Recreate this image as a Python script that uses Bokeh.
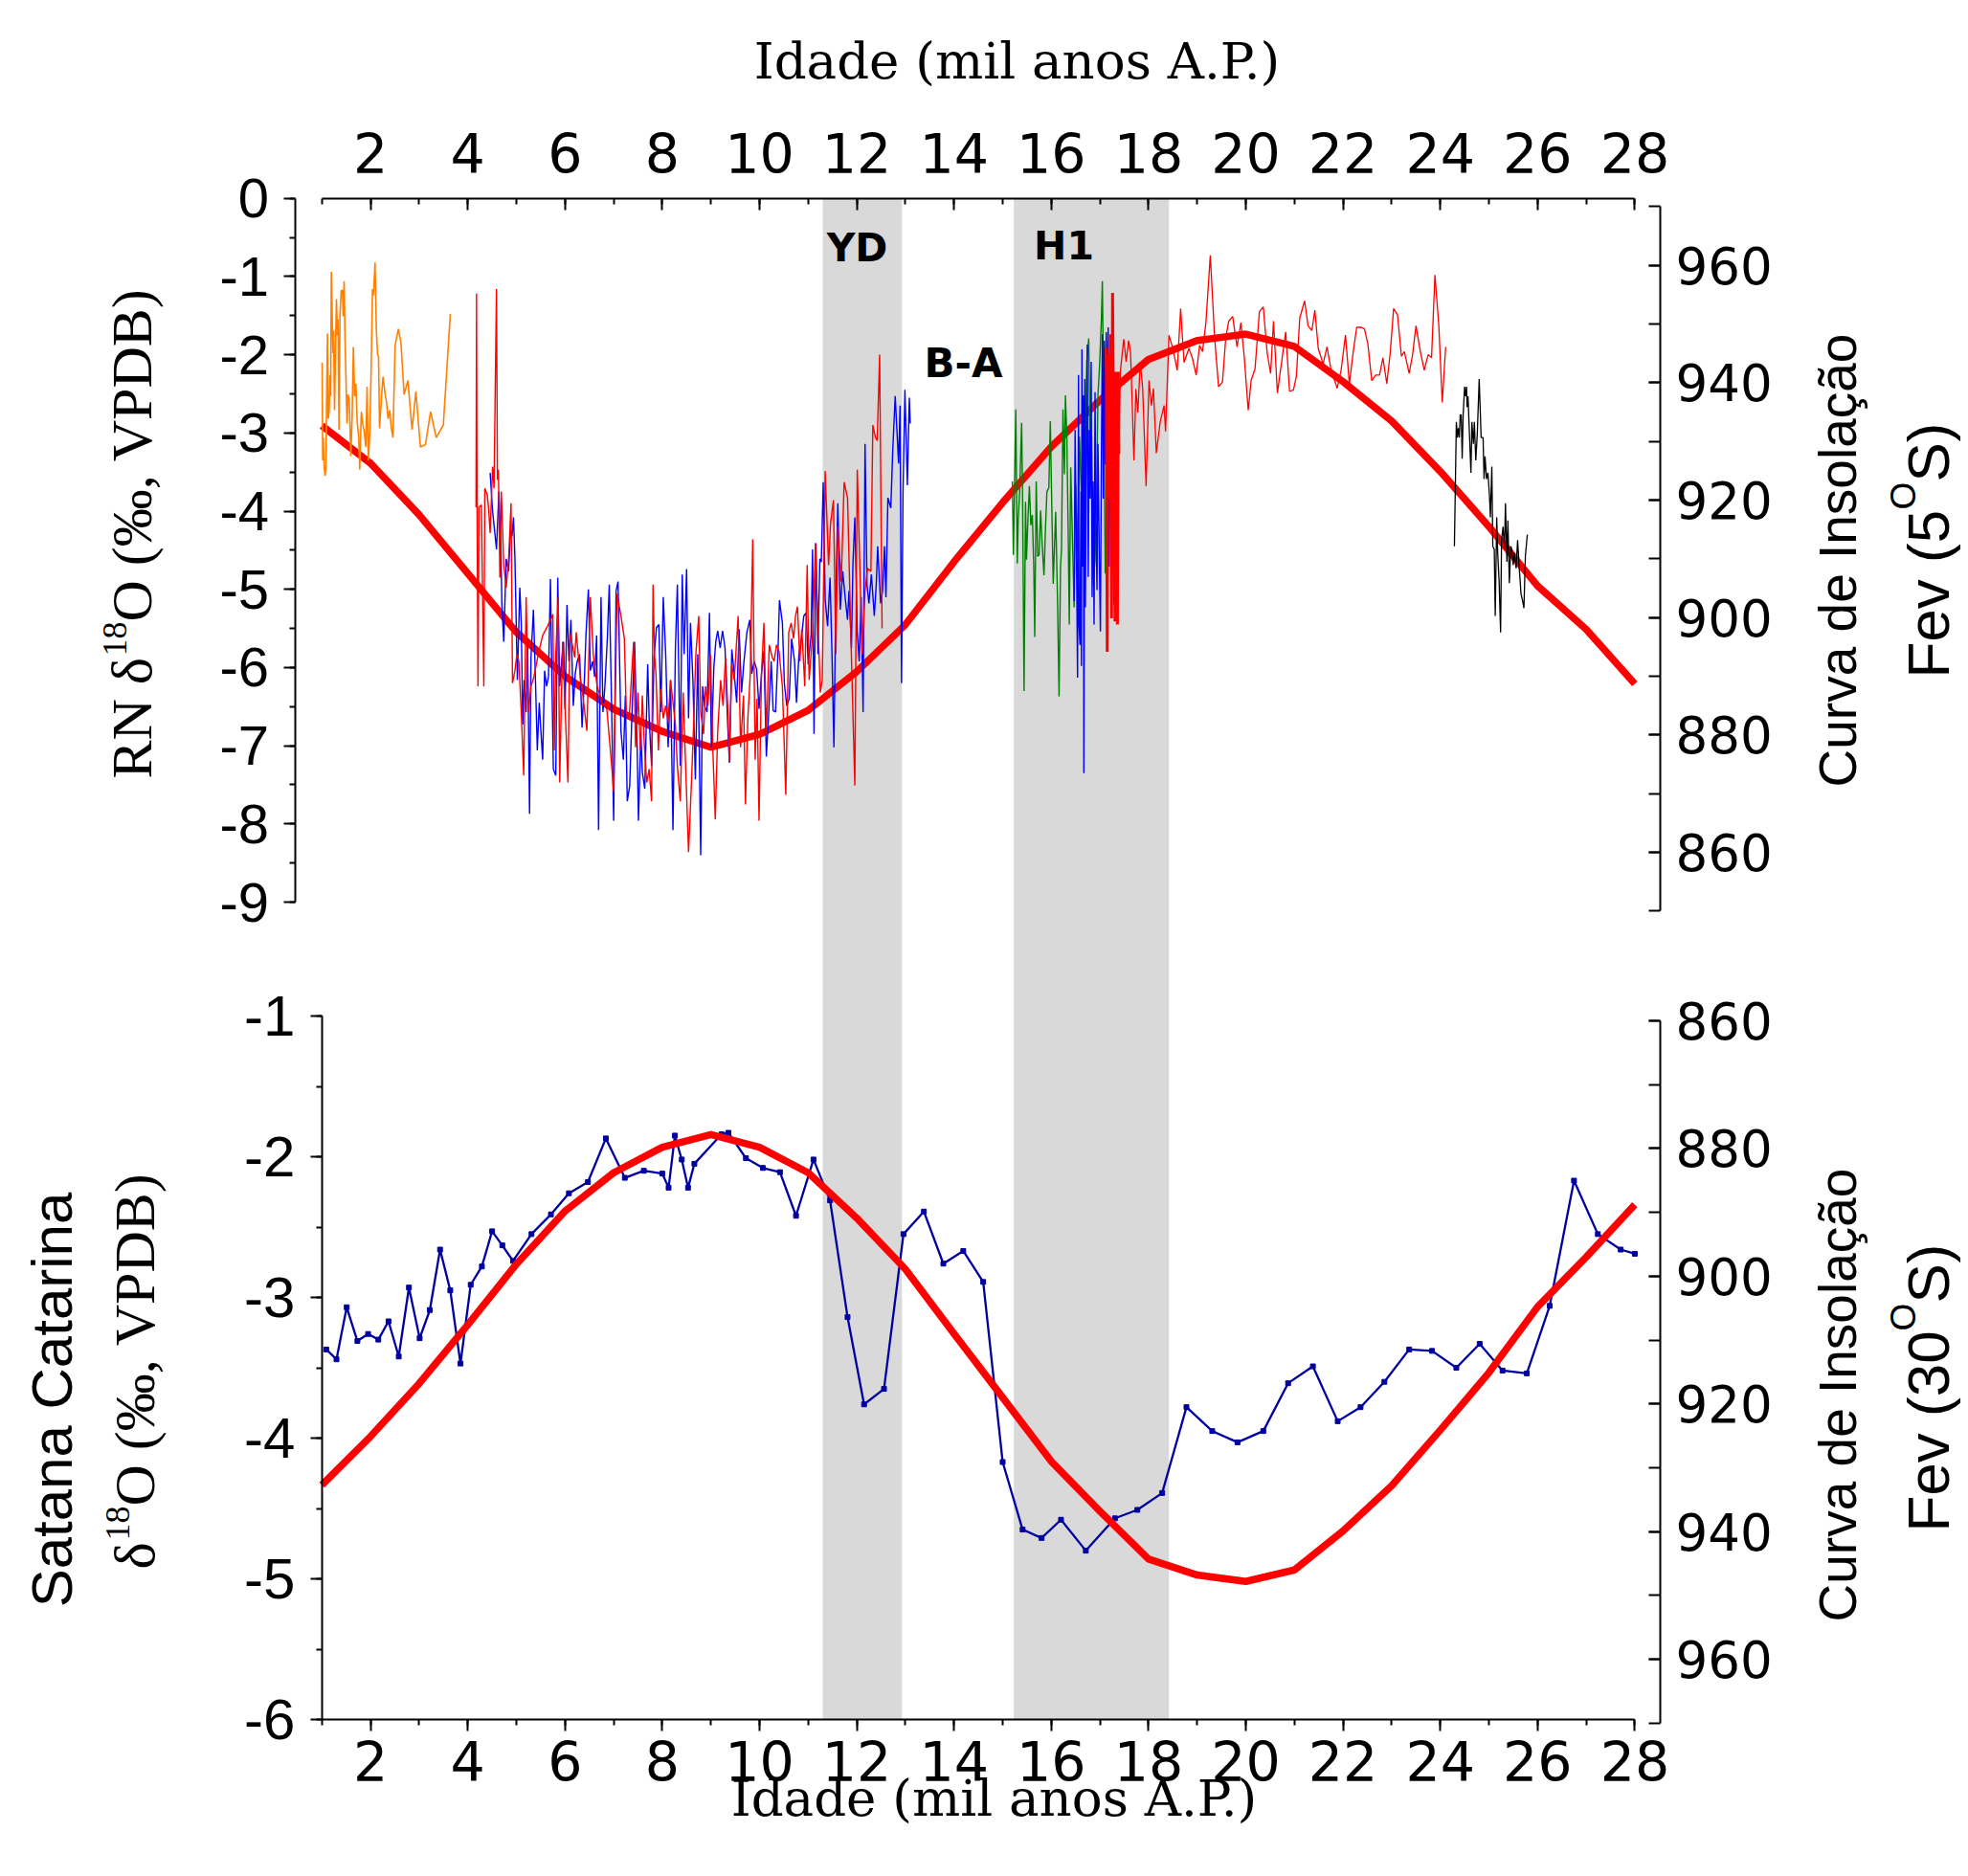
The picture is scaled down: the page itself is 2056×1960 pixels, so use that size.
import math
from bokeh.plotting import figure
from bokeh.models import (Range1d, LinearAxis, SingleIntervalTicker, BoxAnnotation, Label,
                          CustomJSTickFormatter)
from bokeh.embed import file_html
from bokeh.resources import INLINE

# ---------------- data ----------------
ins_age = list(range(1, 29))
ins_5S = [932.7, 926.3, 917.5, 907.5, 897.5, 890.0, 884.4, 880.6, 877.9, 880.1, 884.2, 890.8, 898.8, 909.5,
          919.6, 929.1, 937.0, 944.0, 947.2, 948.3, 946.2, 940.2, 933.5, 924.9, 915.5, 905.4, 898.0, 888.7]
ins_30S = [932.7, 925.1, 916.8, 907.6, 898.1, 889.8, 883.8, 879.8, 877.8, 879.8, 883.8, 890.9, 898.9, 909.0,
           919.0, 929.0, 936.8, 944.3, 946.8, 947.8, 946.0, 939.9, 932.8, 924.1, 915.1, 904.8, 897.0, 888.8]

orange_age = [1.004, 1.017, 1.030, 1.043, 1.063, 1.083, 1.096, 1.115, 1.129, 1.148, 1.168, 1.181, 1.194, 1.214,
              1.227, 1.240, 1.260, 1.280, 1.299, 1.319, 1.332, 1.352, 1.371, 1.398, 1.424, 1.437, 1.457, 1.476,
              1.496, 1.516, 1.535, 1.562, 1.581, 1.594, 1.621, 1.647, 1.673, 1.699, 1.726, 1.758, 1.778, 1.811,
              1.844, 1.870, 1.903, 1.929, 1.955, 1.988, 2.014, 2.041, 2.060, 2.093, 2.119, 2.146, 2.165, 2.185,
              2.231, 2.257, 2.297, 2.329, 2.362, 2.395, 2.428, 2.461, 2.506, 2.572, 2.625, 2.690, 2.769, 2.854,
              2.933, 3.025, 3.130, 3.235, 3.353, 3.497, 3.641]
orange_d18o = [-2.10, -3.35, -3.06, -3.39, -3.55, -3.45, -2.61, -1.73, -2.82, -2.73, -2.26, -2.53, -0.94, -1.55,
               -1.98, -1.69, -2.71, -1.92, -1.29, -1.75, -1.55, -2.96, -1.51, -1.18, -1.18, -1.51, -1.06, -1.80,
               -2.33, -2.88, -2.51, -2.57, -2.98, -3.30, -2.82, -1.90, -2.53, -2.37, -2.86, -3.06, -3.47, -2.73,
               -2.90, -2.98, -3.18, -2.41, -3.35, -2.96, -2.12, -1.16, -1.24, -0.82, -1.67, -2.00, -2.02, -2.94,
               -2.49, -2.28, -2.49, -2.61, -2.82, -2.71, -2.94, -3.06, -1.88, -1.67, -1.84, -2.51, -2.33, -2.96,
               -2.47, -3.18, -3.15, -2.73, -3.06, -2.90, -1.48]

red_age = [4.17, 4.18, 4.19, 4.21, 4.23, 4.28, 4.33, 4.35, 4.40, 4.43, 4.46, 4.51, 4.54, 4.59, 4.61, 4.63, 4.66,
           4.69, 4.74, 4.79, 4.84, 4.89, 4.92, 4.97, 5.01, 5.05, 5.10, 5.15, 5.20, 5.25, 5.30, 5.36, 5.45, 5.54,
           5.64, 5.75, 5.78, 5.81, 5.86, 5.89, 5.95, 6.00, 6.06, 6.10, 6.20, 6.23, 6.32, 6.36, 6.45, 6.52, 6.58,
           6.66, 6.76, 6.86, 6.96, 7.00, 7.07, 7.15, 7.22, 7.26, 7.32, 7.37, 7.41, 7.45, 7.50, 7.55, 7.59, 7.63,
           7.68, 7.73, 7.78, 7.81, 7.84, 7.87, 7.92, 7.97, 8.02, 8.07, 8.12, 8.17, 8.22, 8.27, 8.31, 8.37, 8.43,
           8.48, 8.54, 8.60, 8.64, 8.69, 8.75, 8.79, 8.85, 8.89, 8.94, 8.99, 9.04, 9.09, 9.14, 9.20, 9.25, 9.30,
           9.35, 9.38, 9.43, 9.48, 9.56, 9.61, 9.67, 9.71, 9.76, 9.81, 9.86, 9.91, 9.95, 9.99, 10.04, 10.09,
           10.14, 10.20, 10.26, 10.30, 10.35, 10.40, 10.47, 10.54, 10.60, 10.65, 10.70, 10.74, 10.78, 10.83,
           10.87, 10.93, 10.98, 11.02, 11.09, 11.15, 11.22, 11.25, 11.29, 11.35, 11.42, 11.46, 11.52, 11.57,
           11.61, 11.68, 11.74, 11.81, 11.88, 11.96, 12.01, 12.05, 12.11, 12.17, 12.22, 12.29, 12.33, 12.38,
           12.42, 12.47, 12.52]
red_d18o = [-3.95, -1.22, -3.80, -6.24, -3.95, -3.92, -6.24, -3.71, -3.79, -3.98, -4.28, -3.43, -3.71, -1.16,
            -3.60, -3.47, -4.85, -3.75, -4.69, -4.98, -4.61, -3.90, -6.20, -6.04, -5.83, -5.92, -6.57, -7.38,
            -5.10, -6.57, -6.24, -6.12, -5.83, -5.59, -5.47, -5.32, -7.06, -5.83, -5.10, -7.47, -5.67, -6.49,
            -7.47, -5.55, -5.87, -5.55, -6.16, -6.32, -6.81, -5.10, -5.83, -6.24, -6.45, -6.53, -7.26, -7.59,
            -5.06, -5.34, -5.63, -6.57, -6.65, -6.08, -5.67, -7.02, -6.32, -7.06, -6.36, -6.98, -7.47, -7.30,
            -7.71, -4.94, -5.83, -6.08, -7.06, -6.28, -6.65, -6.49, -6.69, -6.16, -6.45, -6.73, -7.26, -7.71,
            -6.32, -7.26, -8.36, -7.47, -6.81, -5.83, -5.34, -6.57, -6.85, -6.24, -6.49, -5.83, -7.06, -7.94,
            -6.81, -6.16, -6.49, -5.87, -6.57, -7.20, -5.96, -6.16, -5.34, -7.02, -6.36, -7.75, -6.65, -6.08,
            -4.36, -7.18, -6.40, -7.96, -6.08, -5.43, -6.85, -5.71, -5.87, -5.92, -5.71, -5.79, -6.24, -7.63,
            -5.55, -5.43, -5.63, -5.34, -5.22, -5.92, -5.51, -6.24, -4.69, -6.16, -5.59, -4.41, -5.75, -6.32,
            -6.16, -3.49, -4.69, -4.16, -3.86, -5.83, -4.20, -4.90, -3.63, -3.83, -5.63, -7.51, -3.47, -4.41,
            -5.83, -5.02, -4.73, -4.77, -2.90, -3.05, -3.10, -2.00, -5.50]

blue_age = [4.46, 4.51, 4.55, 4.59, 4.64, 4.68, 4.70, 4.74, 4.79, 4.84, 4.88, 4.91, 4.94, 4.97, 5.02, 5.07, 5.10,
            5.13, 5.16, 5.20, 5.23, 5.27, 5.30, 5.35, 5.39, 5.43, 5.47, 5.50, 5.54, 5.58, 5.62, 5.66, 5.70, 5.73,
            5.76, 5.81, 5.85, 5.89, 5.93, 5.97, 6.00, 6.04, 6.08, 6.12, 6.17, 6.21, 6.25, 6.30, 6.35, 6.40, 6.43,
            6.48, 6.52, 6.57, 6.61, 6.65, 6.69, 6.74, 6.78, 6.82, 6.87, 6.91, 6.96, 7.00, 7.05, 7.09, 7.15, 7.20,
            7.24, 7.28, 7.33, 7.38, 7.43, 7.48, 7.51, 7.56, 7.59, 7.64, 7.70, 7.73, 7.78, 7.83, 7.88, 7.93, 7.97,
            8.02, 8.07, 8.12, 8.17, 8.22, 8.27, 8.31, 8.37, 8.41, 8.45, 8.50, 8.54, 8.58, 8.63, 8.68, 8.73, 8.76,
            8.79, 8.83, 8.87, 8.92, 8.97, 9.01, 9.06, 9.10, 9.14, 9.19, 9.24, 9.29, 9.34, 9.38, 9.43, 9.48, 9.53,
            9.58, 9.63, 9.68, 9.74, 9.80, 9.84, 9.89, 9.94, 9.99, 10.04, 10.09, 10.14, 10.19, 10.24, 10.28, 10.33,
            10.38, 10.41, 10.47, 10.51, 10.56, 10.61, 10.66, 10.72, 10.76, 10.81, 10.86, 10.91, 10.96, 11.00,
            11.06, 11.09, 11.12, 11.16, 11.20, 11.24, 11.27, 11.31, 11.35, 11.40, 11.45, 11.49, 11.53, 11.57,
            11.61, 11.66, 11.71, 11.76, 11.81, 11.84, 11.89, 11.92, 11.96, 12.01, 12.05, 12.09, 12.13, 12.17,
            12.21, 12.25, 12.30, 12.36, 12.40, 12.43, 12.49, 12.53, 12.57, 12.60, 12.64, 12.70, 12.74, 12.79,
            12.86, 12.89, 12.92, 12.95, 12.99, 13.04, 13.08, 13.10]
blue_d18o = [-3.51, -4.00, -4.24, -4.49, -3.75, -4.41, -5.18, -5.67, -4.61, -4.77, -4.24, -4.32, -4.08, -4.61,
             -6.16, -4.98, -5.43, -6.73, -6.16, -6.57, -5.63, -7.87, -5.87, -5.26, -6.12, -7.06, -6.45, -6.77,
             -7.18, -6.04, -6.24, -6.12, -4.87, -6.16, -7.30, -7.38, -4.85, -6.24, -5.92, -5.67, -6.53, -5.20,
             -5.92, -5.39, -6.49, -6.08, -5.92, -5.83, -6.77, -6.12, -5.59, -5.00, -6.04, -5.92, -6.12, -5.59,
             -8.08, -5.10, -6.57, -6.24, -5.63, -4.94, -6.57, -7.96, -5.02, -4.90, -6.81, -7.18, -6.36, -7.71,
             -7.51, -6.53, -5.67, -6.90, -7.96, -6.85, -7.34, -7.55, -5.96, -6.65, -7.26, -5.87, -5.49, -5.45,
             -6.57, -5.10, -5.83, -7.02, -6.16, -8.08, -5.75, -4.94, -7.26, -4.81, -5.83, -4.74, -6.65, -5.43,
             -6.16, -7.43, -5.83, -7.02, -8.40, -6.24, -6.49, -6.57, -5.30, -7.02, -6.00, -5.67, -5.53, -5.75,
             -5.53, -5.75, -6.65, -7.22, -5.77, -6.08, -6.45, -5.51, -6.32, -5.92, -5.55, -5.39, -6.08, -5.92,
             -6.02, -6.53, -6.08, -5.79, -7.14, -6.57, -5.92, -6.55, -6.57, -5.79, -5.14, -5.43, -6.20, -6.49,
             -6.40, -5.63, -5.92, -6.45, -5.83, -5.63, -5.34, -5.30, -5.96, -5.59, -4.49, -6.85, -4.41, -5.83,
             -4.61, -4.65, -3.63, -5.14, -5.47, -4.85, -5.83, -7.02, -5.06, -3.90, -5.26, -4.77, -5.10, -5.39,
             -5.02, -5.75, -4.69, -4.08, -5.55, -5.92, -5.10, -6.57, -3.14, -4.94, -5.18, -4.81, -5.34, -4.94,
             -4.45, -5.18, -5.02, -4.45, -5.10, -3.83, -3.96, -3.22, -2.53, -3.39, -2.65, -6.20, -3.79, -2.45,
             -3.67, -2.55, -2.88]

green_age = [15.20, 15.22, 15.24, 15.27, 15.30, 15.32, 15.35, 15.39, 15.41, 15.44, 15.47, 15.49, 15.52, 15.55,
             15.58, 15.61, 15.64, 15.66, 15.69, 15.72, 15.75, 15.78, 15.81, 15.85, 15.88, 15.91, 15.95, 15.98,
             16.01, 16.04, 16.09, 16.13, 16.16, 16.19, 16.21, 16.24, 16.27, 16.29, 16.32, 16.35, 16.37, 16.40,
             16.44, 16.47, 16.50, 16.54, 16.58, 16.62, 16.67, 16.70, 16.73, 16.77, 16.80, 16.83, 16.86, 16.90,
             16.93, 16.96, 16.99, 17.03, 17.05, 17.08, 17.11]
green_d18o = [-3.62, -4.56, -3.84, -2.70, -4.67, -4.10, -3.75, -2.87, -3.84, -6.30, -3.88, -4.62, -4.10, -3.68,
              -4.18, -4.05, -4.71, -5.61, -3.62, -4.58, -4.56, -3.99, -4.40, -4.82, -4.23, -3.75, -3.70, -2.85,
              -3.92, -4.93, -4.01, -5.19, -6.37, -4.71, -4.49, -2.70, -3.53, -2.52, -3.05, -4.36, -5.45, -3.44,
              -4.49, -5.23, -3.66, -4.53, -3.05, -3.84, -2.61, -3.31, -2.09, -1.79, -3.40, -3.05, -4.93, -4.62,
              -3.84, -2.52, -2.17, -1.56, -1.06, -2.74, -4.80]

blue2_age = [16.47, 16.49, 16.52, 16.54, 16.56, 16.57, 16.59, 16.61, 16.62, 16.63, 16.65, 16.66, 16.67, 16.69,
             16.70, 16.72, 16.74, 16.76, 16.78, 16.80, 16.82, 16.84, 16.86, 16.88, 16.90, 16.92, 16.94, 16.96,
             16.99, 17.01, 17.03, 17.05, 17.07, 17.09, 17.11, 17.13, 17.15, 17.17, 17.19, 17.21, 17.24, 17.26,
             17.29]
blue2_d18o = [-5.15, -2.96, -4.71, -6.13, -2.26, -5.45, -5.71, -3.75, -5.98, -1.93, -4.71, -2.52, -7.35, -2.31,
              -5.23, -3.40, -1.87, -4.84, -2.96, -3.84, -2.09, -5.10, -3.62, -5.45, -2.48, -4.27, -5.01, -3.14,
              -4.71, -5.54, -3.40, -1.74, -3.84, -1.82, -3.40, -1.71, -2.96, -1.65, -4.71, -2.31, -3.62, -2.61,
              -5.19]

red2_age = [17.13, 17.15, 17.17, 17.20, 17.22, 17.24, 17.26, 17.29, 17.31, 17.33, 17.36, 17.38, 17.39]
red2_d18o = [-1.91, -5.80, -1.99, -3.84, -1.74, -5.37, -1.21, -3.75, -5.41, -2.22, -5.45, -2.22, -3.27]

red3_age = [17.39, 17.42, 17.49, 17.54, 17.59, 17.63, 17.70, 17.74, 17.78, 17.83, 17.88, 17.95, 18.01, 18.06,
            18.10, 18.16, 18.24, 18.32, 18.35, 18.42, 18.50, 18.59, 18.66, 18.73, 18.83, 18.90, 18.98, 19.05,
            19.11, 19.18, 19.27, 19.36, 19.44, 19.52, 19.59, 19.65, 19.73, 19.82, 19.90, 19.97, 20.05, 20.11,
            20.19, 20.28, 20.36, 20.44, 20.51, 20.57, 20.65, 20.74, 20.82, 20.90, 20.98, 21.04, 21.11, 21.21,
            21.28, 21.36, 21.42, 21.49, 21.59, 21.67, 21.75, 21.88, 21.96, 22.05, 22.13, 22.21, 22.28, 22.38,
            22.44, 22.51, 22.59, 22.67, 22.75, 22.82, 22.90, 22.97, 23.04, 23.12, 23.20, 23.26, 23.36, 23.43,
            23.50, 23.59, 23.67, 23.75, 23.82, 23.89, 23.97, 24.04, 24.11]
red3_d18o = [-3.27, -2.22, -1.80, -2.09, -1.82, -1.96, -3.35, -2.44, -2.74, -2.09, -2.44, -3.68, -2.33, -2.65,
             -2.43, -3.26, -2.86, -2.65, -2.98, -1.75, -1.92, -2.20, -1.41, -2.10, -1.92, -2.04, -2.26, -1.88,
             -1.96, -1.59, -0.73, -1.79, -2.41, -2.35, -1.77, -1.57, -1.51, -1.90, -1.59, -2.04, -2.71, -2.33,
             -2.18, -1.45, -1.39, -1.98, -2.24, -1.57, -2.49, -2.08, -1.71, -2.47, -2.45, -2.28, -1.53, -1.31,
             -1.63, -1.69, -1.43, -1.92, -2.12, -1.90, -2.18, -2.43, -2.20, -1.75, -2.37, -1.96, -1.65, -1.65,
             -1.67, -1.86, -2.33, -2.26, -2.26, -2.04, -2.37, -1.98, -1.41, -1.49, -2.02, -1.96, -2.24, -2.00,
             -1.63, -1.96, -2.20, -2.00, -2.04, -0.98, -1.63, -2.61, -1.90]

black_age = [24.29, 24.31, 24.33, 24.35, 24.37, 24.39, 24.41, 24.43, 24.45, 24.47, 24.50, 24.52, 24.54, 24.55,
             24.57, 24.60, 24.63, 24.65, 24.68, 24.70, 24.73, 24.76, 24.80, 24.84, 24.88, 24.90, 24.92, 24.95,
             24.98, 25.01, 25.03, 25.06, 25.08, 25.11, 25.13, 25.16, 25.18, 25.21, 25.24, 25.26, 25.29, 25.32,
             25.34, 25.37, 25.39, 25.42, 25.45, 25.47, 25.50, 25.52, 25.56, 25.59, 25.62, 25.66, 25.69, 25.72,
             25.75, 25.79]
black_d18o = [-4.45, -3.67, -2.86, -3.06, -2.94, -3.06, -2.77, -2.77, -3.33, -2.77, -2.41, -2.53, -2.41, -2.67,
              -2.53, -3.02, -3.51, -2.86, -3.14, -2.86, -3.35, -3.02, -2.31, -3.06, -3.06, -3.59, -3.30, -3.59,
              -3.51, -3.79, -4.08, -3.43, -4.45, -4.49, -5.34, -4.08, -4.53, -4.90, -5.55, -4.37, -4.20, -4.49,
              -3.90, -4.65, -4.12, -4.92, -4.45, -4.49, -4.69, -4.53, -4.73, -4.37, -4.69, -5.06, -5.14, -5.24,
              -4.57, -4.30]

sc_age = [1.09, 1.30, 1.51, 1.73, 1.95, 2.16, 2.37, 2.58, 2.79, 3.01, 3.22, 3.43, 3.64, 3.85, 4.06, 4.29, 4.50,
          4.71, 4.93, 5.31, 5.71, 6.08, 6.47, 6.84, 7.23, 7.62, 8.00, 8.13, 8.26, 8.40, 8.53, 8.66, 9.22, 9.36,
          9.72, 10.07, 10.42, 10.75, 11.11, 11.45, 11.81, 12.15, 12.56, 12.96, 13.38, 13.78, 14.19, 14.60, 15.00,
          15.41, 15.80, 16.20, 16.71, 17.31, 17.77, 18.28, 18.78, 19.31, 19.83, 20.36, 20.87, 21.38, 21.89,
          22.36, 22.85, 23.36, 23.83, 24.33, 24.81, 25.28, 25.78, 26.25, 26.75, 27.24, 27.71, 28.0]
sc_d18o = [-3.37, -3.44, -3.07, -3.31, -3.26, -3.30, -3.17, -3.42, -2.93, -3.29, -3.09, -2.66, -2.95, -3.47,
           -2.91, -2.78, -2.53, -2.63, -2.74, -2.55, -2.41, -2.26, -2.18, -1.87, -2.15, -2.10, -2.12, -2.22, -1.85,
           -2.02, -2.22, -2.05, -1.84, -1.83, -2.01, -2.08, -2.11, -2.42, -2.02, -2.31, -3.14, -3.76, -3.65, -2.55,
           -2.39, -2.76, -2.67, -2.89, -4.17, -4.65, -4.71, -4.58, -4.80, -4.57, -4.51, -4.39, -3.78, -3.95, -4.03,
           -3.95, -3.61, -3.49, -3.88, -3.78, -3.60, -3.37, -3.38, -3.50, -3.33, -3.52, -3.54, -3.06, -2.17, -2.55,
           -2.66, -2.69]

yd_band = (11.30, 12.93)
h1_band = (15.23, 18.42)

# ---------------- figure geometry (frame = whole canvas) ----------------
W, H = 2048, 1952
XR = (-5.6102, 34.7047)
TL = (-21.3623, 2.5300)
p = figure(width=W, height=H, min_border=0, min_border_left=0, min_border_right=0,
           min_border_top=0, min_border_bottom=0,
           x_range=Range1d(*XR), y_range=Range1d(*TL),
           x_axis_location=None, y_axis_location=None,
           output_backend="svg", toolbar_location=None)
p.extra_y_ranges = {"tr": Range1d(686.81, 1005.14), "bl": Range1d(-7.0612, 6.2177),
                    "br": Range1d(992.81, 700.20)}
p.outline_line_color = None
p.background_fill_color = "white"
p.border_fill_color = "white"
p.grid.visible = False


def sx(X):
    return XR[0] + X / W * (XR[1] - XR[0])


def sy(Y):
    return TL[1] - Y / H * (TL[1] - TL[0])


hyphen = CustomJSTickFormatter(code="return tick.toString();")


def style(ax, font, size, tin, tout, mtin, mtout, standoff):
    ax.axis_line_width = 2
    ax.major_tick_line_width = 2
    ax.minor_tick_line_width = 2
    ax.major_tick_in = tin
    ax.major_tick_out = tout
    ax.minor_tick_in = mtin
    ax.minor_tick_out = mtout
    ax.major_label_text_font = font
    ax.major_label_text_font_size = size
    ax.major_label_text_color = "black"
    ax.major_label_standoff = standoff


LEFT_AXIS_X = 0.4626   # position of the upper-panel left axis
RIGHT_AXIS_X = 28.524  # position of both right axes

xt = LinearAxis(ticker=SingleIntervalTicker(interval=2, num_minor_ticks=2), bounds=(1, 28),
                fixed_location=0.0)
style(xt, "DejaVu Sans", "57px", 12, 0, 6, 0, 26)
p.add_layout(xt, "above")

xb = LinearAxis(y_range_name="bl", ticker=SingleIntervalTicker(interval=2, num_minor_ticks=2),
                bounds=(1, 28), fixed_location=-6.0)
style(xb, "DejaVu Sans", "57px", 0, 12, 0, 6, 10)
p.add_layout(xb, "below")

yl = LinearAxis(ticker=SingleIntervalTicker(interval=1, num_minor_ticks=2), bounds=(-9, 0),
                fixed_location=LEFT_AXIS_X, formatter=hyphen)
style(yl, "Liberation Sans", "58px", 0, 12, 0, 6, 16)
p.add_layout(yl, "left")

ybl = LinearAxis(y_range_name="bl", ticker=SingleIntervalTicker(interval=1, num_minor_ticks=2),
                 bounds=(-6, -1), fixed_location=1.0, formatter=hyphen)
style(ybl, "Liberation Sans", "60px", 0, 12, 0, 6, 16)
p.add_layout(ybl, "left")

yr = LinearAxis(y_range_name="tr", ticker=SingleIntervalTicker(interval=20, num_minor_ticks=2),
                bounds=(850, 970), fixed_location=RIGHT_AXIS_X)
style(yr, "DejaVu Sans", "53px", 12, 0, 12, 0, 16)
p.add_layout(yr, "right")

ybr = LinearAxis(y_range_name="br", ticker=SingleIntervalTicker(interval=20, num_minor_ticks=2),
                 bounds=(860, 970), fixed_location=RIGHT_AXIS_X)
style(ybr, "DejaVu Sans", "53px", 12, 0, 12, 0, 16)
p.add_layout(ybr, "right")

# shaded intervals: from the top axis (0 on the upper scale) to the bottom axis
for b in (yd_band, h1_band):
    p.add_layout(BoxAnnotation(left=b[0], right=b[1], top=0.0, bottom=sy(1796),
                               fill_color="#d9d9d9", fill_alpha=1.0, line_color=None, level="underlay"))

# top panel
p.line(ins_age, ins_5S, y_range_name="tr", line_color="#ff0000", line_width=7.5, line_join="round")
p.line(orange_age, orange_d18o, line_color="#ff8000", line_width=1.6)
p.line(blue_age, blue_d18o, line_color="#0000ff", line_width=1.4)
p.line(red_age, red_d18o, line_color="#ff0000", line_width=1.4)
p.line(green_age, green_d18o, line_color="#008000", line_width=1.4)
p.line(blue2_age, blue2_d18o, line_color="#0000ff", line_width=1.4)
p.line(red3_age, red3_d18o, line_color="#ff0000", line_width=1.3)
p.line(red2_age, red2_d18o, line_color="#ff0000", line_width=3.0)
p.line(black_age, black_d18o, line_color="#000000", line_width=1.3)

# bottom panel
p.line(sc_age, sc_d18o, y_range_name="bl", line_color="#0000a0", line_width=2.3)
p.scatter(sc_age, sc_d18o, y_range_name="bl", marker="square", size=5, fill_color="#0000a0",
          line_color="#0000a0")
p.line(ins_age, ins_30S, y_range_name="br", line_color="#ff0000", line_width=7.5, line_join="round")


def lab(text, X, Y, font, size, angle=0.0, align="center", baseline="middle", style_="normal"):
    p.add_layout(Label(x=sx(X), y=sy(Y), text=text, text_font=font, text_font_size=size,
                       angle=angle, text_align=align, text_baseline=baseline,
                       text_font_style=style_, text_color="black"))


R = math.pi / 2
lab("Idade (mil anos A.P.)", 1062, 63, "DejaVu Serif", "53px")
lab("Idade (mil anos A.P.)", 1038, 1878, "DejaVu Serif", "53px")
lab("YD", 895, 258, "DejaVu Sans", "41px", style_="bold")
lab("H1", 1111, 256, "DejaVu Sans", "41px", style_="bold")
lab("B-A", 1006, 379, "DejaVu Sans", "42px", style_="bold")

# left titles (rotated, reading upwards)
lab("RN \u03b4", 137, 813, "Liberation Serif", "60px", R, "left", "alphabetic")
lab("18", 119, 685, "Liberation Serif", "36px", R, "left", "alphabetic")
lab("O (\u2030, VPDB)", 137, 649, "Liberation Serif", "60px", R, "left", "alphabetic")
lab("Satana Catarina", 54, 1462, "Liberation Sans", "60px", R, "center", "alphabetic")
lab("\u03b4", 140, 1639, "Liberation Serif", "60px", R, "left", "alphabetic")
lab("18", 122, 1609, "Liberation Serif", "36px", R, "left", "alphabetic")
lab("O (\u2030, VPDB)", 140, 1573, "Liberation Serif", "60px", R, "left", "alphabetic")

# right titles
lab("Curva de Insola\u00e7\u00e3o", 1919, 585, "Liberation Sans", "55px", R, "center", "alphabetic")
lab("Fev (5", 2014, 708, "Liberation Sans", "62px", R, "left", "alphabetic")
lab("O", 1988, 532, "Liberation Sans", "37px", R, "left", "alphabetic")
lab("S)", 2014, 503, "Liberation Sans", "62px", R, "left", "alphabetic")
lab("Curva de Insola\u00e7\u00e3o", 1919, 1457, "Liberation Sans", "55px", R, "center", "alphabetic")
lab("Fev (30", 2014, 1600, "Liberation Sans", "62px", R, "left", "alphabetic")
lab("O", 1988, 1390, "Liberation Sans", "37px", R, "left", "alphabetic")
lab("S)", 2014, 1361, "Liberation Sans", "62px", R, "left", "alphabetic")

open("out.html", "w").write(file_html(p, INLINE))
